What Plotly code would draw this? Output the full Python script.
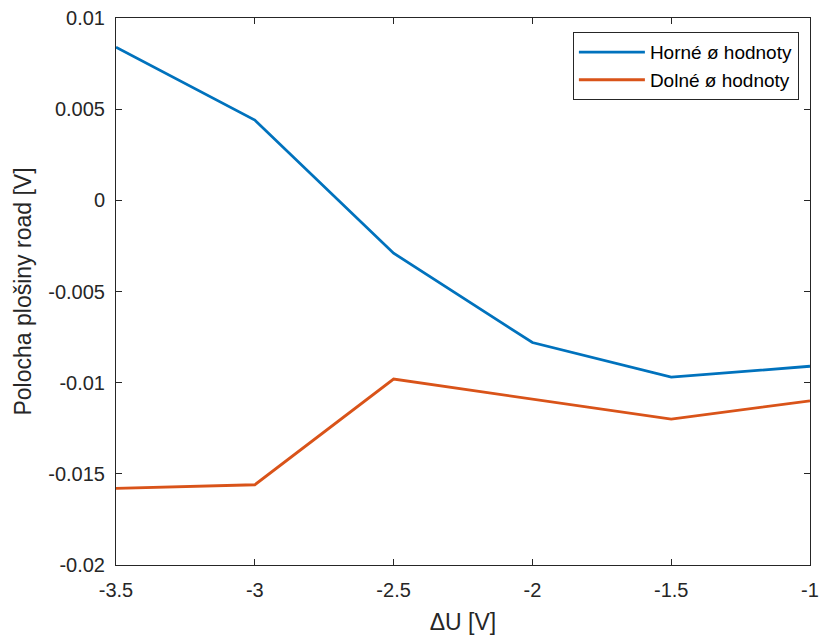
import plotly.graph_objects as go

# Voltage difference steps
delta_u = [-3.5, -3.0, -2.5, -2.0, -1.5, -1.0]

# Platform road midline for upper and lower averages
horne = [0.0084, 0.0044, -0.0029, -0.0078, -0.0097, -0.0091]
dolne = [-0.0158, -0.0156, -0.0098, -0.0109, -0.0120, -0.0110]

x_ticks = [-3.5, -3, -2.5, -2, -1.5, -1]
x_tick_text = ["-3.5", "-3", "-2.5", "-2", "-1.5", "-1"]
y_ticks = [-0.02, -0.015, -0.01, -0.005, 0, 0.005, 0.01]
y_tick_text = ["-0.02", "-0.015", "-0.01", "-0.005", "0", "0.005", "0.01"]

axis_color = "#262626"
font_family = "Liberation Sans, Arial, sans-serif"

fig = go.Figure()
fig.add_trace(go.Scatter(x=delta_u, y=horne, mode="lines",
                         name="Horné ø hodnoty",
                         line=dict(color="#0072BD", width=2.8)))
fig.add_trace(go.Scatter(x=delta_u, y=dolne, mode="lines",
                         name="Dolné ø hodnoty",
                         line=dict(color="#D95319", width=2.8)))

fig.update_layout(
    width=821, height=637,
    margin=dict(l=116, r=11, t=18, b=72),
    paper_bgcolor="white", plot_bgcolor="white",
    font=dict(family=font_family, color=axis_color, size=20),
    legend=dict(
        x=0.984, y=0.974, xanchor="right", yanchor="top",
        bgcolor="white", bordercolor=axis_color, borderwidth=1,
        font=dict(size=19, color="#000000"),
        tracegroupgap=0, itemwidth=66,
    ),
    xaxis=dict(
        range=[-3.5, -1], tickvals=x_ticks, ticktext=x_tick_text,
        showgrid=False, zeroline=False, automargin=False,
        showline=True, linecolor=axis_color, linewidth=1, mirror="ticks",
        ticks="inside", ticklen=6, tickcolor=axis_color,
        tickfont=dict(size=20), ticklabelstandoff=7,
        title=dict(text="ΔU [V]", font=dict(size=23), standoff=13),
    ),
    yaxis=dict(
        range=[-0.02, 0.01], tickvals=y_ticks, ticktext=y_tick_text,
        showgrid=False, zeroline=False, automargin=False,
        showline=True, linecolor=axis_color, linewidth=1, mirror="ticks",
        ticks="inside", ticklen=6, tickcolor=axis_color,
        tickfont=dict(size=20), ticklabelstandoff=6,
        title=dict(text="Polocha plošiny road [V]", font=dict(size=23), standoff=10),
    ),
)

fig.write_html("out.html")
